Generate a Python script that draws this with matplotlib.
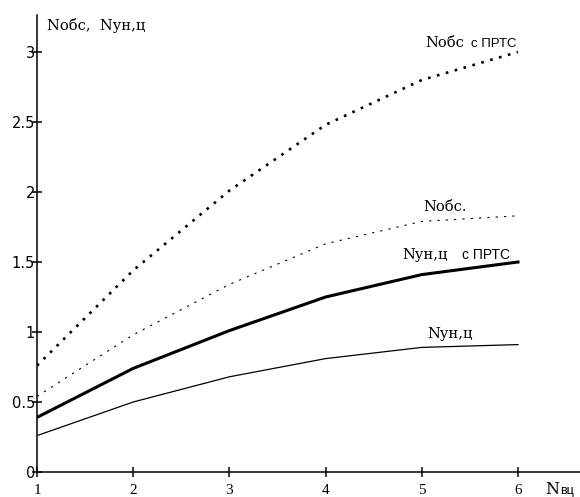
import matplotlib
matplotlib.use("Agg")
import matplotlib.pyplot as plt

W, H = 580, 497

# number of computing units
n_vc = [1, 2, 3, 4, 5, 6]

# curves
n_obs_prts = [0.76, 1.44, 2.01, 2.48, 2.80, 3.00]
n_obs = [0.54, 0.98, 1.34, 1.63, 1.79, 1.83]
n_un_prts = [0.39, 0.74, 1.01, 1.25, 1.41, 1.50]
n_un = [0.26, 0.50, 0.68, 0.81, 0.89, 0.91]

x_ticks = [1, 2, 3, 4, 5, 6]
y_ticks = [0, 0.5, 1, 1.5, 2, 2.5, 3]
y_tick_labels = ["0", "0.5", "1", "1.5", "2", "2.5", "3"]

SERIF = "DejaVu Serif"
SANS = "Liberation Sans"

fig = plt.figure(figsize=(W / 100, H / 100), dpi=100)
ax = fig.add_axes([37 / W, 25 / H, 543 / W, 457 / H])

ax.plot(n_vc, n_obs_prts, color="black", lw=1.9, linestyle=(0, (1, 2.5)))
ax.plot(n_vc, n_obs, color="black", lw=0.8, linestyle=(0, (2, 5.5)))
ax.plot(n_vc, n_un_prts, color="black", lw=2.2)
ax.plot(n_vc, n_un, color="black", lw=0.9)

ax.set_xlim(1, 1 + 543 / 96.2)
ax.set_ylim(0, 457 / 140)
ax.spines[["top", "right"]].set_visible(False)
for s in ("left", "bottom"):
    ax.spines[s].set_linewidth(1.1)

ax.set_xticks(x_ticks)
ax.set_xticklabels([str(v) for v in x_ticks], fontfamily="Liberation Serif", fontsize=11)
ax.set_yticks(y_ticks)
ax.set_yticklabels(y_tick_labels, fontfamily="DejaVu Sans", fontsize=10.5)
ax.tick_params(axis="both", direction="inout", length=7, width=1.1)
ax.tick_params(axis="y", pad=-2)
ax.tick_params(axis="x", pad=5)


def label(x, y, parts):
    # parts: list of (text, family, size, x offset in px)
    for txt, fam, size, dx in parts:
        fig.text((x + dx) / W, 1 - y / H, txt, family=fam, fontsize=size,
                 ha="left", va="baseline")


label(47, 30, [("Nобс,  Nун,ц", SERIF, 10.5, 0)])
label(425, 47, [("Nобс", SERIF, 10.5, 0), ("с ПРТС", SANS, 9.5, 46)])
label(423, 211, [("Nобс.", SERIF, 10.5, 0)])
label(402, 259, [("Nун,ц", SERIF, 10.5, 0), ("с ПРТС", SANS, 10, 60)])
label(427, 338, [("Nун,ц", SERIF, 10.5, 0)])
label(545, 494, [("N", SERIF, 11.5, 0), ("вц", SANS, 9, 15)])

fig.savefig("out.png", dpi=100)
